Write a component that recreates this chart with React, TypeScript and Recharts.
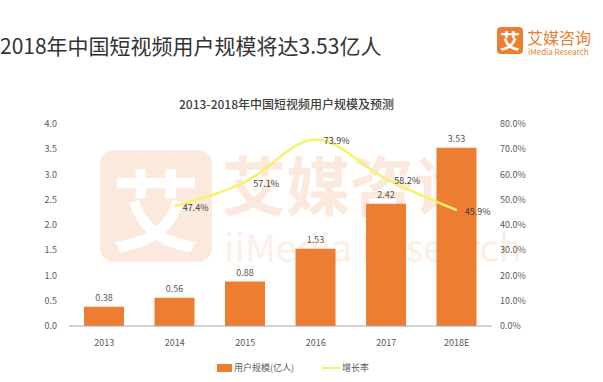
import {
  ComposedChart,
  Bar,
  Line,
  XAxis,
  YAxis,
  LabelList,
} from 'recharts';

const years = ['2013', '2014', '2015', '2016', '2017', '2018E'];
const users = [0.38, 0.56, 0.88, 1.53, 2.42, 3.53];
const growth = [null, 47.4, 57.1, 73.9, 58.2, 45.9];
const leftTicks = [0, 0.5, 1, 1.5, 2, 2.5, 3, 3.5, 4];
const rightTicks = [0, 10, 20, 30, 40, 50, 60, 70, 80];

const FONT = '"Noto Sans CJK SC", "Noto Sans", sans-serif';
const ORANGE = '#ED7D31';
const YELLOW = '#F6F26A';
const GRAY = '#595959';
const WM = '#FCE9DE';

const data = years.map((y, i) => ({ year: y, users: users[i], growth: growth[i] }));

function GrowthLabel(props: any) {
  const { x, y, value } = props;
  if (value == null) return null;
  return (
    <text x={x + 8} y={y + 5} fontSize={9} fill="#404040" textAnchor="start" fontFamily={FONT}>
      {value.toFixed(1)}%
    </text>
  );
}

export default function App() {
  return (
    <div
      style={{
        position: 'absolute',
        left: 0,
        top: 0,
        width: 603,
        height: 382,
        background: '#fff',
        fontFamily: FONT,
        overflow: 'hidden',
      }}
    >
      {/* faint watermark behind the plot */}
      <div style={{ position: 'absolute', left: 100, top: 150, width: 112, height: 112, borderRadius: 14, background: WM }} />
      <div style={{ position: 'absolute', left: 100, top: 150, width: 112, height: 112, color: '#fff', fontSize: 88, lineHeight: '112px', textAlign: 'center', fontWeight: 700 }}>艾</div>
      <div style={{ position: 'absolute', left: 222, top: 142, fontSize: 64, color: WM, fontWeight: 700, lineHeight: '80px', whiteSpace: 'nowrap' }}>艾媒咨询</div>
      <div style={{ position: 'absolute', left: 224, top: 224, fontSize: 38, color: '#FDEEE6', lineHeight: '44px', whiteSpace: 'nowrap' }}>iiMedia Research</div>

      {/* header */}
      <div style={{ position: 'absolute', left: 0, top: 30, fontSize: 21, color: '#333', whiteSpace: 'nowrap', lineHeight: '30px' }}>
        2018年中国短视频用户规模将达3.53亿人
      </div>
      <div style={{ position: 'absolute', left: 497, top: 27, width: 26, height: 27, borderRadius: 4, background: ORANGE, color: '#fff', fontSize: 20, fontWeight: 700, lineHeight: '27px', textAlign: 'center' }}>艾</div>
      <div style={{ position: 'absolute', left: 527, top: 27, fontSize: 16, color: ORANGE, lineHeight: '20px', whiteSpace: 'nowrap' }}>艾媒咨询</div>
      <div style={{ position: 'absolute', left: 528, top: 47, fontSize: 8, color: ORANGE, lineHeight: '10px', whiteSpace: 'nowrap' }}>iMedia Research</div>

      {/* chart title */}
      <div style={{ position: 'absolute', left: 0, width: 573, top: 95, textAlign: 'center', fontSize: 12, fontWeight: 500, color: '#404040', lineHeight: '18px' }}>
        2013-2018年中国短视频用户规模及预测
      </div>

      <div style={{ position: 'absolute', left: 0, top: 0 }}>
        <ComposedChart
          width={603}
          height={382}
          data={data}
          margin={{ top: 124, right: 51, bottom: 0, left: 0 }}
        >
          <XAxis
            dataKey="year"
            height={56}
            tickLine={false}
            tickSize={0}
            tickMargin={14}
            stroke="#A6A6A6"
            tick={{ fill: GRAY, fontSize: 9, fontFamily: FONT }}
          />
          <YAxis
            yAxisId="left"
            domain={[0, 4]}
            ticks={leftTicks}
            width={69}
            axisLine={false}
            tickLine={false}
            tickSize={0}
            tickMargin={12}
            tickFormatter={(v: number) => v.toFixed(1)}
            tick={{ fill: GRAY, fontSize: 9, fontFamily: FONT }}
          />
          <YAxis
            yAxisId="right"
            orientation="right"
            domain={[0, 80]}
            ticks={rightTicks}
            width={60}
            axisLine={false}
            tickLine={false}
            tickSize={0}
            tickMargin={8}
            tickFormatter={(v: number) => `${v.toFixed(1)}%`}
            tick={{ fill: GRAY, fontSize: 9, fontFamily: FONT, textAnchor: 'start' }}
          />
          <Bar yAxisId="left" dataKey="users" fill={ORANGE} barSize={40} isAnimationActive={false}>
            <LabelList
              dataKey="users"
              position="top"
              offset={6}
              formatter={(v: any) => Number(v).toFixed(2)}
              style={{ fill: GRAY, fontSize: 9, fontFamily: FONT }}
            />
          </Bar>
          <Line
            yAxisId="right"
            dataKey="growth"
            type="monotone"
            stroke={YELLOW}
            strokeWidth={2.5}
            dot={false}
            isAnimationActive={false}
            label={<GrowthLabel />}
          />
        </ComposedChart>
      </div>

      {/* legend */}
      <div style={{ position: 'absolute', left: 217, top: 364, width: 15, height: 8, background: ORANGE }} />
      <div style={{ position: 'absolute', left: 234, top: 361, fontSize: 9, color: GRAY, lineHeight: '14px', whiteSpace: 'nowrap' }}>用户规模(亿人)</div>
      <div style={{ position: 'absolute', left: 322, top: 367, width: 18, height: 2, background: YELLOW }} />
      <div style={{ position: 'absolute', left: 342, top: 361, fontSize: 9, color: GRAY, lineHeight: '14px', whiteSpace: 'nowrap' }}>增长率</div>
    </div>
  );
}
